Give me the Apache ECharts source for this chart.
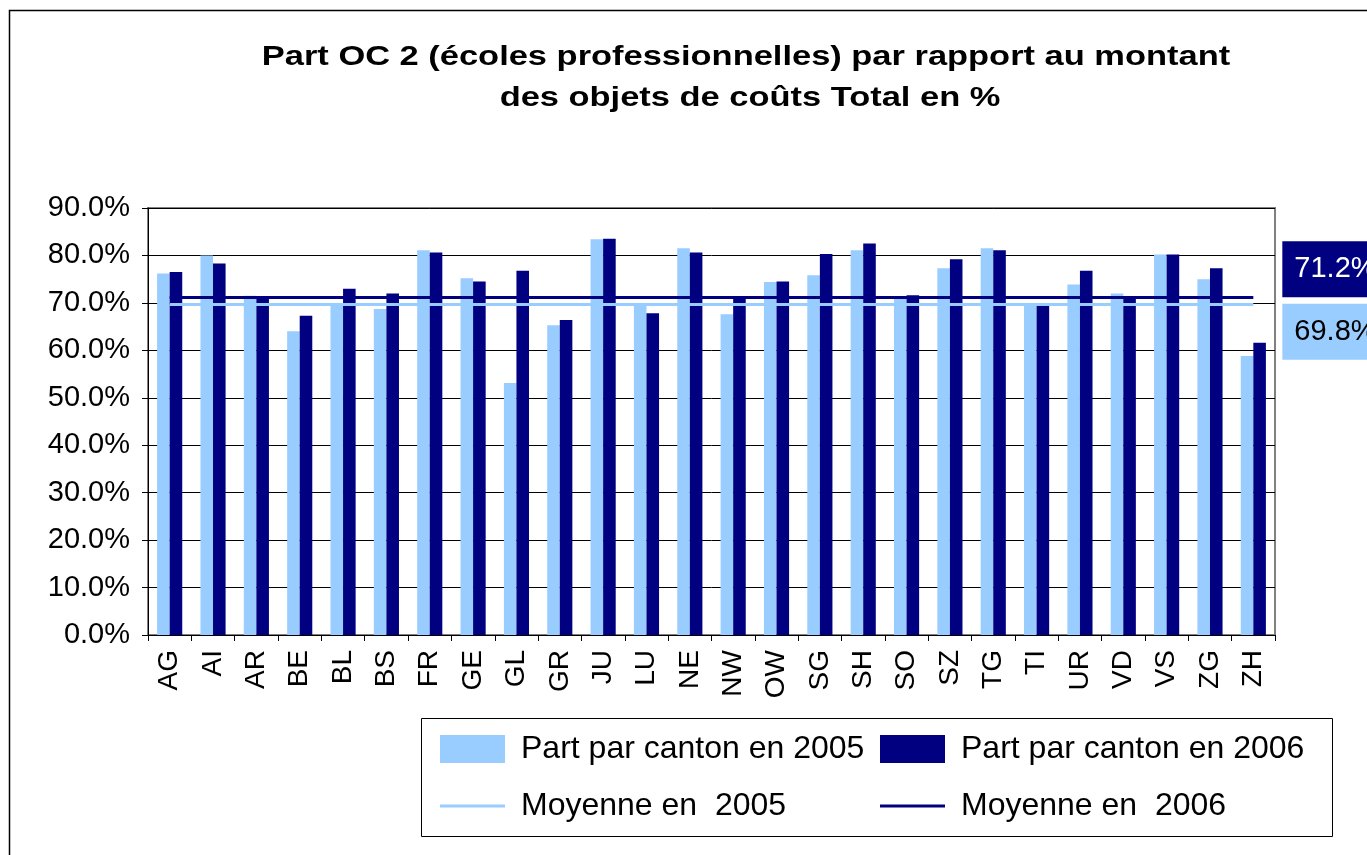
<!DOCTYPE html>
<html>
<head>
<meta charset="utf-8">
<script src="https://cdn.jsdelivr.net/npm/echarts@6/dist/echarts.min.js"></script>
<style>
html,body{margin:0;padding:0;background:#fff;}
#chart{width:1367px;height:855px;}
</style>
</head>
<body>
<div id="chart"></div>
<script>
var cantons = ['AG','AI','AR','BE','BL','BS','FR','GE','GL','GR','JU','LU','NE','NW','OW','SG','SH','SO','SZ','TG','TI','UR','VD','VS','ZG','ZH'];
var part2005 = [76.2,80.0,71.5,64.0,69.9,68.7,81.1,75.2,53.1,65.3,83.4,69.8,81.5,67.6,74.4,75.8,81.1,71.3,77.3,81.5,69.9,73.9,72.0,80.2,75.0,58.8];
var part2006 = [76.5,78.3,71.1,67.3,73.0,72.0,80.6,74.5,76.8,66.4,83.5,67.8,80.6,71.1,74.5,80.3,82.5,71.6,79.2,81.1,69.8,76.8,71.1,80.2,77.3,61.6];
var mean2005 = 69.8;
var mean2006 = 71.2;
var yTicks = [0,10,20,30,40,50,60,70,80,90];
var titleLines = ['Part OC 2 (écoles professionnelles) par rapport au montant', 'des objets de coûts Total en %'];

var FONT = 'Liberation Sans, Arial, sans-serif';
var LIGHT = '#99CCFF', DARK = '#000080';

var chart = echarts.init(document.getElementById('chart'));

function meanLine(name, mean, color, lightText, vAlign) {
  return {
    name: name, type: 'line', data: [], symbol: 'none',
    lineStyle: {color: color, width: 3}, itemStyle: {color: color},
    markLine: {
      silent: true, symbol: 'none', animation: false,
      lineStyle: {color: color, width: 3, type: 'solid'},
      label: {
        show: true, position: 'end', distance: 29,
        formatter: mean.toFixed(1) + '%',
        color: lightText ? '#fff' : '#000',
        backgroundColor: color,
        fontFamily: FONT, fontSize: 29, lineHeight: 30,
        padding: [13, 40, 13, 12],
        verticalAlign: vAlign
      },
      data: [[{coord: [cantons[0], mean]}, {coord: [cantons[cantons.length - 1], mean]}]]
    }
  };
}

var lineIcon = 'path://M0,0H65V3H0Z';

chart.setOption({
  animation: false,
  backgroundColor: '#fff',
  graphic: [
    {type: 'rect', shape: {x: 9.5, y: 10.5, width: 1400, height: 900}, style: {fill: 'none', stroke: '#000', lineWidth: 1.5}, z: -10},
    {type: 'rect', shape: {x: 421.5, y: 718.5, width: 911, height: 118}, style: {fill: '#fff', stroke: '#000', lineWidth: 1}, z: -5},
    {type: 'text', x: 746, y: 57, scaleX: 1.23, style: {text: titleLines[0], font: 'bold 28px ' + FONT, fill: '#000', textAlign: 'center', textVerticalAlign: 'middle'}},
    {type: 'text', x: 750, y: 98, scaleX: 1.23, style: {text: titleLines[1], font: 'bold 28px ' + FONT, fill: '#000', textAlign: 'center', textVerticalAlign: 'middle'}}
  ],
  legend: {
    left: 440, top: 725, width: 900, padding: 0,
    itemWidth: 65, itemHeight: 28, itemGap: 9,
    textStyle: {fontFamily: FONT, fontSize: 32, color: '#000', width: 350, lineHeight: 48, padding: [0, 0, 0, 11]},
    data: [
      {name: 'Part par canton en 2005', icon: 'rect'},
      {name: 'Part par canton en 2006', icon: 'rect'},
      {name: 'Moyenne en  2005', icon: lineIcon},
      {name: 'Moyenne en  2006', icon: lineIcon}
    ]
  },
  grid: {left: 148, top: 208, right: 92, bottom: 220, show: true, borderColor: '#808080', borderWidth: 2, backgroundColor: 'transparent'},
  xAxis: {
    type: 'category', data: cantons,
    axisLine: {lineStyle: {color: '#000', width: 1}},
    axisTick: {show: true, length: 6, lineStyle: {color: '#000'}},
    axisLabel: {rotate: 90, fontFamily: FONT, fontSize: 28, color: '#000', margin: 15, interval: 0}
  },
  yAxis: {
    type: 'value', min: 0, max: 90, interval: 10,
    axisLine: {show: true, lineStyle: {color: '#000', width: 1}},
    axisTick: {show: true, length: 6, lineStyle: {color: '#000'}},
    splitLine: {lineStyle: {color: '#000', width: 1}},
    axisLabel: {fontFamily: FONT, fontSize: 29, color: '#000', margin: 18,
      formatter: function (v) { return yTicks.indexOf(v) >= 0 ? v.toFixed(1) + '%' : ''; }}
  },
  series: [
    {name: 'Part par canton en 2005', type: 'bar', data: part2005, itemStyle: {color: LIGHT}, barGap: '0%', barCategoryGap: '42%'},
    {name: 'Part par canton en 2006', type: 'bar', data: part2006, itemStyle: {color: DARK}, barGap: '0%', barCategoryGap: '42%'},
    meanLine('Moyenne en  2005', mean2005, LIGHT, false, 'top'),
    meanLine('Moyenne en  2006', mean2006, DARK, true, 'bottom')
  ]
});
</script>
</body>
</html>
